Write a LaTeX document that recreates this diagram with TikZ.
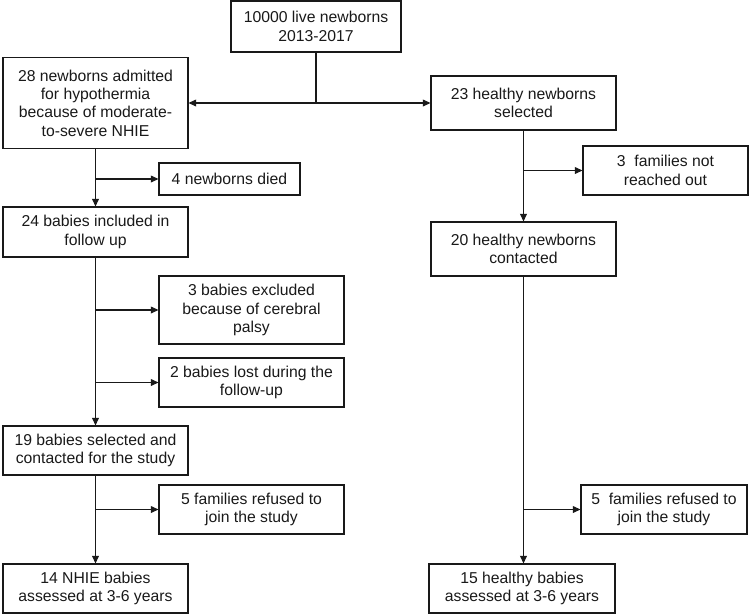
\documentclass[tikz,border=0pt]{standalone}
\usepackage{fontspec}
\setmainfont{Liberation Sans}
\usetikzlibrary{arrows.meta}

\begin{document}
\begin{tikzpicture}[
    >={Triangle[length=1.9mm,width=1.7mm]},
    box/.style={draw=black!90, line width=0.75pt, align=center, inner sep=0pt,
        text=black!90, font=\fontsize{11.2}{13}\selectfont,
        minimum width=4.625cm, minimum height=1.225cm},
    link/.style={draw=black!90, line width=0.75pt}
]
    \useasboundingbox (0,0) rectangle (18.75,-15.375);

    % Source population (top)
    \node[box, minimum width=4.25cm, minimum height=1.275cm] (pop) at (7.9,-0.6625) {10000 live newborns\\2013-2017};

    % NHIE branch (left)
    \node[box, minimum height=2.275cm] (nhie) at (2.3875,-2.575) {28 newborns admitted\\for hypothermia\\because of moderate-\\to-severe NHIE};
    \node[box, minimum width=3.525cm, minimum height=0.8cm] (died) at (5.7375,-4.475) {4 newborns died};
    \node[box, minimum height=1.25cm] (incl) at (2.3875,-5.8) {24 babies included in\\follow up};
    \node[box, minimum height=1.7cm] (palsy) at (6.2875,-7.75) {3 babies excluded\\because of cerebral\\palsy};
    \node[box] (lost) at (6.2875,-9.5625) {2 babies lost during the\\follow-up};
    \node[box] (sel) at (2.3875,-11.2625) {19 babies selected and\\contacted for the study};
    \node[box] (refl) at (6.2875,-12.7375) {5 families refused to\\join the study};
    \node[box] (nhiefin) at (2.3875,-14.7125) {14 NHIE babies\\assessed at 3-6 years};

    % Healthy branch (right)
    \node[box, minimum height=1.35cm] (hlth) at (13.0875,-2.575) {23 healthy newborns\\selected};
    \node[box, minimum width=4.125cm] (reach) at (16.6375,-4.2625) {3~ families not\\reached out};
    \node[box, minimum height=1.35cm] (cont) at (13.0875,-6.225) {20 healthy newborns\\contacted};
    \node[box, minimum width=4.15cm] (refr) at (16.6,-12.7375) {5~ families refused to\\join the study};
    \node[box, minimum width=4.65cm] (hlthfin) at (13.05,-14.7125) {15 healthy babies\\assessed at 3-6 years};

    % Split
    \draw[link] (pop.south) -- (pop.south |- nhie.east);
    \draw[link, <->] (nhie.east) -- (hlth.west);

    % Left flow
    \draw[link, ->] (nhie.south) -- (incl.north);
    \draw[link, ->] (nhie.south |- died.west) -- (died.west);
    \draw[link, ->] (incl.south) -- (sel.north);
    \draw[link, ->] (incl.south |- palsy.west) -- (palsy.west);
    \draw[link, ->] (incl.south |- lost.west) -- (lost.west);
    \draw[link, ->] (sel.south) -- (nhiefin.north);
    \draw[link, ->] (sel.south |- refl.west) -- (refl.west);

    % Right flow
    \draw[link, ->] (hlth.south) -- (cont.north);
    \draw[link, ->] (hlth.south |- reach.west) -- (reach.west);
    \draw[link, ->] (cont.south) -- (cont.south |- hlthfin.north);
    \draw[link, ->] (cont.south |- refr.west) -- (refr.west);
\end{tikzpicture}
\end{document}
